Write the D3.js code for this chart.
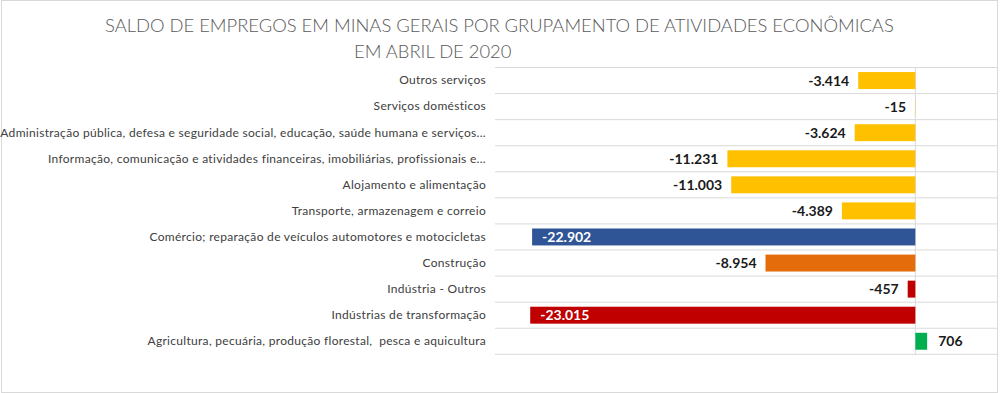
<!DOCTYPE html>
<html><head><meta charset="utf-8">
<script src="https://cdn.jsdelivr.net/npm/d3@7"></script>
<style>body{margin:0;background:#fff}svg{display:block}</style>
</head><body>
<svg id="c" width="1000" height="393"></svg>
<script>
const titleLines = ["SALDO DE EMPREGOS EM MINAS GERAIS POR GRUPAMENTO DE ATIVIDADES ECONÔMICAS", "EM ABRIL DE 2020"];
const categories = [
  "Outros serviços",
  "Serviços domésticos",
  "Administração pública, defesa e seguridade social, educação, saúde humana e serviços...",
  "Informação, comunicação e atividades financeiras, imobiliárias, profissionais e...",
  "Alojamento e alimentação",
  "Transporte, armazenagem e correio",
  "Comércio; reparação de veículos automotores e motocicletas",
  "Construção",
  "Indústria - Outros",
  "Indústrias de transformação",
  "Agricultura, pecuária, produção florestal,  pesca e aquicultura"
];
const values = [-3414, -15, -3624, -11231, -11003, -4389, -22902, -8954, -457, -23015, 706];
const colors = ["#FFC000","#FFC000","#FFC000","#FFC000","#FFC000","#FFC000","#2F5597","#E46C0A","#C00000","#C00000","#00B050"];

const svg = d3.select("#c");
const W = 1000, H = 393;
svg.append("rect").attr("x",1.5).attr("y",0.5).attr("width",W-4).attr("height",H-1)
  .attr("fill","#fff").attr("stroke","#d9d9d9");

const x = d3.scaleLinear().domain([-25000, 5000]).range([497, 999]);
const y = d3.scaleBand().domain(categories).range([67.5, 354.3]).paddingInner(0.35).paddingOuter(0.175);
const loc = d3.formatLocale({decimal:",", thousands:".", grouping:[3], currency:["R$",""], minus:"-"});
const fmt = loc.format(",d");

// title
titleLines.forEach((t,i)=>{
  svg.append("text").attr("x", i===0?105:354).attr("y", i===0?31.5:57.5)
    .attr("font-family","Lato, 'Open Sans', sans-serif").attr("font-weight",300)
    .attr("font-size",18.4).attr("fill","#595959").text(t);
});

// gridlines at band boundaries
const step = y.step();
const bounds = d3.range(categories.length+1).map(i => y.range()[0] + i*step);
svg.append("g").selectAll("line").data(bounds).join("line")
  .attr("x1",495).attr("x2",997).attr("y1",d=>d).attr("y2",d=>d)
  .attr("stroke","#d9d9d9").attr("stroke-width",1);
// zero line
svg.append("line").attr("x1",x(0)).attr("x2",x(0)).attr("y1",bounds[0]).attr("y2",bounds[bounds.length-1])
  .attr("stroke","#d9d9d9");

// bars
const data = categories.map((c,i)=>({c, v:values[i], col:colors[i]}));
svg.append("g").selectAll("rect").data(data).join("rect")
  .attr("x", d=>x(Math.min(0,d.v))).attr("width", d=>Math.abs(x(d.v)-x(0)))
  .attr("y", d=>y(d.c)).attr("height", y.bandwidth()).attr("fill", d=>d.col);

// category labels
const yAxis = d3.axisLeft(y).tickSize(0).tickPadding(0);
const ga = svg.append("g").attr("transform","translate(486,0)").call(yAxis);
ga.select(".domain").remove();
ga.selectAll("text").attr("font-family","Lato, 'Open Sans', sans-serif").attr("font-size",12)
  .attr("letter-spacing",0.3).attr("fill","#404040").style("white-space","pre");

// value labels
svg.append("g").selectAll("text").data(data).join("text")
  .attr("x", d => d.v >= 0 ? x(d.v)+11 : (Math.abs(d.v) > 20000 ? x(d.v)+10 : x(d.v)-9))
  .attr("text-anchor", d => d.v >= 0 ? "start" : (Math.abs(d.v) > 20000 ? "start" : "end"))
  .attr("y", d => y(d.c)+y.bandwidth()/2).attr("dy","0.36em")
  .attr("font-family","Lato, 'Open Sans', sans-serif").attr("font-weight","bold").attr("font-size",14)
  .attr("fill", d => Math.abs(d.v) > 20000 ? "#fff" : "#1a1a1a")
  .text(d => fmt(d.v));
</script>
</body></html>
